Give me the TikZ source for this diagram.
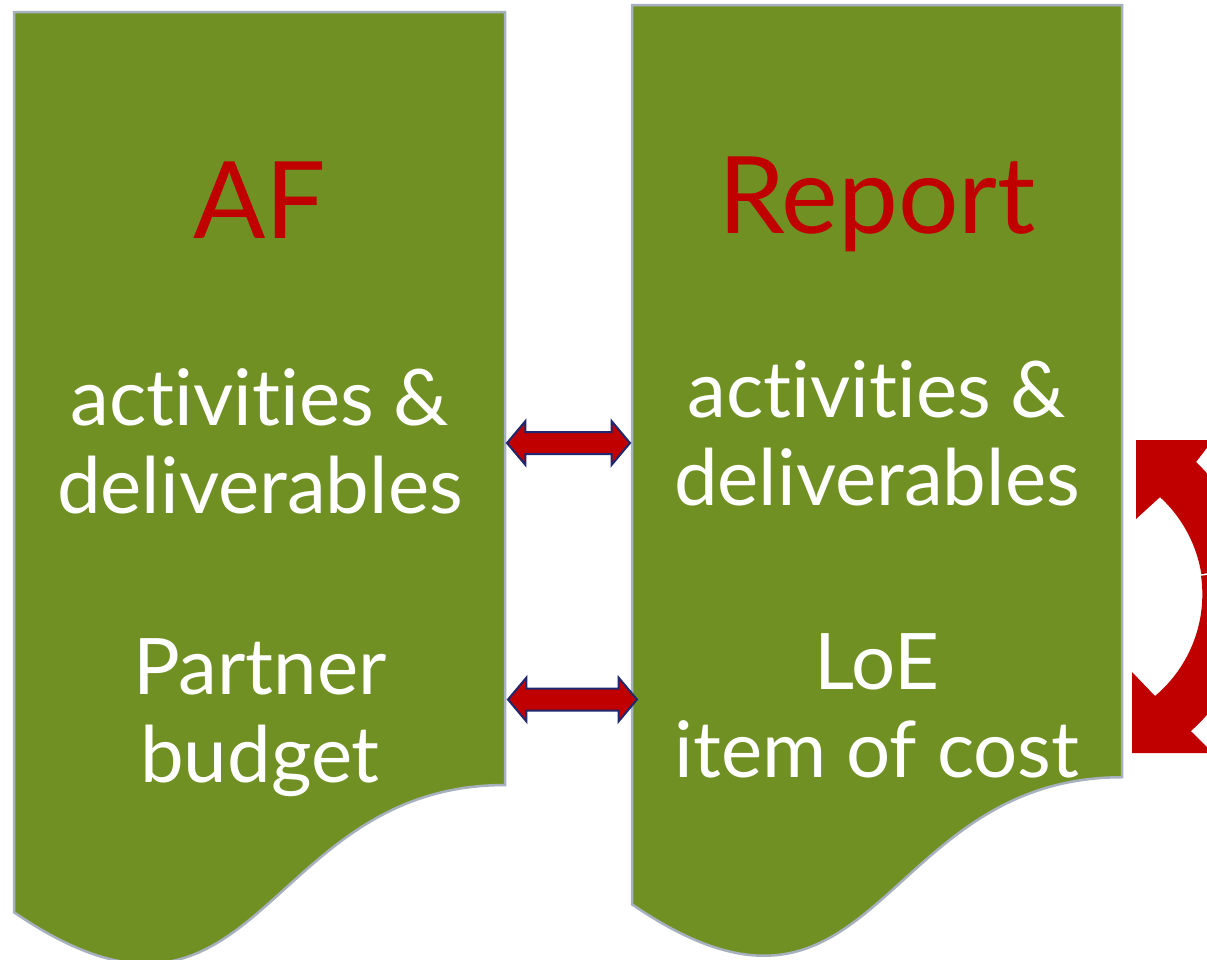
\documentclass[tikz,border=0pt]{standalone}
\usepackage{fontspec}
\setmainfont{Lato}[Ligatures=NoCommon]
\usetikzlibrary{calc, shapes.arrows}
\definecolor{leafgreen}{RGB}{113,144,35}
\definecolor{edgegray}{RGB}{167,176,190}
\definecolor{darkred}{RGB}{192,0,0}
\definecolor{navyline}{RGB}{31,40,110}

\begin{document}
\begin{tikzpicture}[x=1pt, y=-1pt,
    doc/.style={fill=leafgreen, draw=edgegray, line width=2.5pt},
    title/.style={text=darkred, font=\fontsize{107}{107}\selectfont, anchor=base},
    body/.style={text=white, font=\fontsize{78}{88}\selectfont, align=center, anchor=base},
    link/.style={double arrow, draw=navyline, fill=darkred, line width=2pt, inner sep=0pt,
        text height=20pt, text depth=0pt, text width=0pt,
        double arrow head extend=11pt, double arrow tip angle=100}]
    \clip (0,0) rectangle (1207,959);

    \foreach \x\y\w\h in {14/12/491/964, 632/5/490/963} {
        \draw[doc] (\x,\y) -- (\x+\w,\y) -- (\x+\w,\y+0.8019*\h)
            .. controls (\x+0.5*\w,\y+0.8019*\h) and (\x+0.5*\w,\y+1.1075*\h) .. (\x,\y+0.9339*\h) -- cycle;
    }

    % multi-line nodes sit on the baseline of their last line
    \node[title] (af) at (260,238) {AF};
    \node[title] (report) at (877,233) {Report};
    \node[body] (afwork) at (260,513) {activities \&\\deliverables};
    \node[body] (repwork) at (877,505) {activities \&\\deliverables};
    \node[body] (afbudget) at (260,782) {Partner\\budget};
    \node[body] (repcost) at (877,777) {LoE\\item of cost};

    \node[link, minimum height=123pt] (linkwork) at (568.5,443) {};
    \node[link, minimum height=129pt] (linkcost) at (572.5,699.5) {};

    % two halves of the cycle arrow at the right edge
    \coordinate (ringc) at (1070,595);
    \fill[darkred] (1136,440) -- (1213,440) -- (1196,462)
        arc[start angle=-46.5, end angle=-9, radius=182] -- ($(ringc)+(-9:133)$)
        arc[start angle=-9, end angle=-47.4, radius=133] -- (1136,519) -- cycle;
    \fill[darkred] (1132,753) -- (1132,672) -- (1155,696)
        arc[start angle=49.9, end angle=-8, radius=133] -- ($(ringc)+(-8:182)$)
        arc[start angle=-8, end angle=48.4, radius=182] -- (1213,753) -- cycle;
\end{tikzpicture}
\end{document}
